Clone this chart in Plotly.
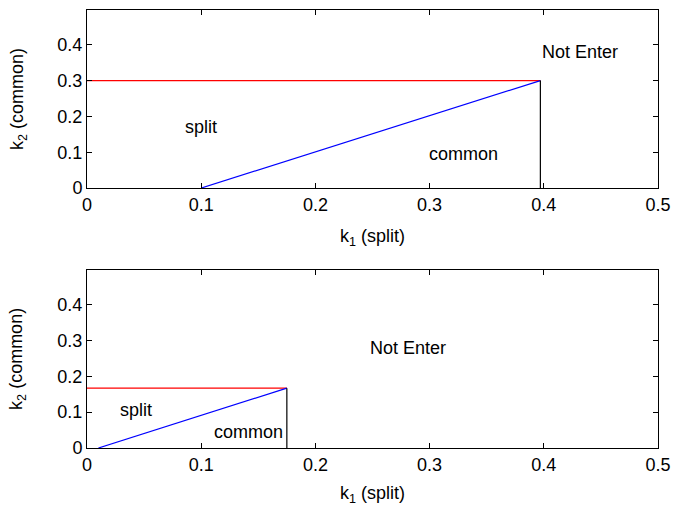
import plotly.graph_objects as go
from plotly.subplots import make_subplots

# Top panel
top_red_x = [0, 0.397]
top_red_y = [0.3, 0.3]
top_blue_x = [0.1, 0.397]
top_blue_y = [0, 0.3]
top_black_x = [0.397, 0.397]
top_black_y = [0.3, 0]
top_labels = ["Not Enter", "split", "common"]
top_label_x = [0.432, 0.1, 0.33]
top_label_y = [0.38, 0.17, 0.095]

# Bottom panel
bot_red_x = [0, 0.175]
bot_red_y = [0.167, 0.167]
bot_blue_x = [0.01, 0.175]
bot_blue_y = [0, 0.167]
bot_black_x = [0.175, 0.175]
bot_black_y = [0.167, 0]
bot_labels = ["Not Enter", "split", "common"]
bot_label_x = [0.281, 0.043, 0.141]
bot_label_y = [0.28, 0.105, 0.044]

x_ticks = [0, 0.1, 0.2, 0.3, 0.4, 0.5]
x_tick_text = ["0", "0.1", "0.2", "0.3", "0.4", "0.5"]
y_ticks = [0, 0.1, 0.2, 0.3, 0.4]
y_tick_text = ["0", "0.1", "0.2", "0.3", "0.4"]
x_title = "k<sub>1</sub> (split)"
y_title = "k<sub>2</sub> (common)"

FS = 18

fig = make_subplots(rows=2, cols=1, vertical_spacing=0.187)

def add_panel(row, rx, ry, bx, by, kx, ky, labels, lx, ly):
    fig.add_trace(go.Scatter(x=rx, y=ry, mode="lines", line=dict(color="#ff0000", width=1.2), showlegend=False), row=row, col=1)
    fig.add_trace(go.Scatter(x=bx, y=by, mode="lines", line=dict(color="#0000ff", width=1.2), showlegend=False), row=row, col=1)
    fig.add_trace(go.Scatter(x=kx, y=ky, mode="lines", line=dict(color="#000000", width=1.2), showlegend=False), row=row, col=1)
    for t, x, y in zip(labels, lx, ly):
        fig.add_annotation(x=x, y=y, text=t, showarrow=False, font=dict(size=FS, color="black"),
                           xanchor="center", yanchor="middle", row=row, col=1)

add_panel(1, top_red_x, top_red_y, top_blue_x, top_blue_y, top_black_x, top_black_y, top_labels, top_label_x, top_label_y)
add_panel(2, bot_red_x, bot_red_y, bot_blue_x, bot_blue_y, bot_black_x, bot_black_y, bot_labels, bot_label_x, bot_label_y)

axis_common = dict(showgrid=False, zeroline=False, showline=True, linecolor="black", linewidth=1,
                   mirror="ticks", ticks="inside", ticklen=5, tickcolor="black",
                   tickfont=dict(size=FS, color="black"), automargin=False)

for r in (1, 2):
    fig.update_xaxes(range=[0, 0.5], tickvals=x_ticks, ticktext=x_tick_text,
                     title=dict(text=x_title, font=dict(size=FS, color="black")),
                     row=r, col=1, **axis_common)
    fig.update_yaxes(range=[0, 0.497], tickvals=y_ticks, ticktext=y_tick_text,
                     row=r, col=1, **axis_common)

# y-axis titles placed as rotated annotations
for yref in ("y domain", "y2 domain"):
    fig.add_annotation(text=y_title, textangle=-90, showarrow=False,
                       xref="paper", x=-0.121, xanchor="center",
                       yref=yref, y=0.5, yanchor="middle",
                       font=dict(size=FS, color="black"))

fig.update_layout(width=686, height=506, margin=dict(l=87, r=28, t=10, b=58),
                  paper_bgcolor="white", plot_bgcolor="white",
                  font=dict(family="Liberation Sans, Arial, sans-serif", color="black"))

fig.write_html("out.html")
